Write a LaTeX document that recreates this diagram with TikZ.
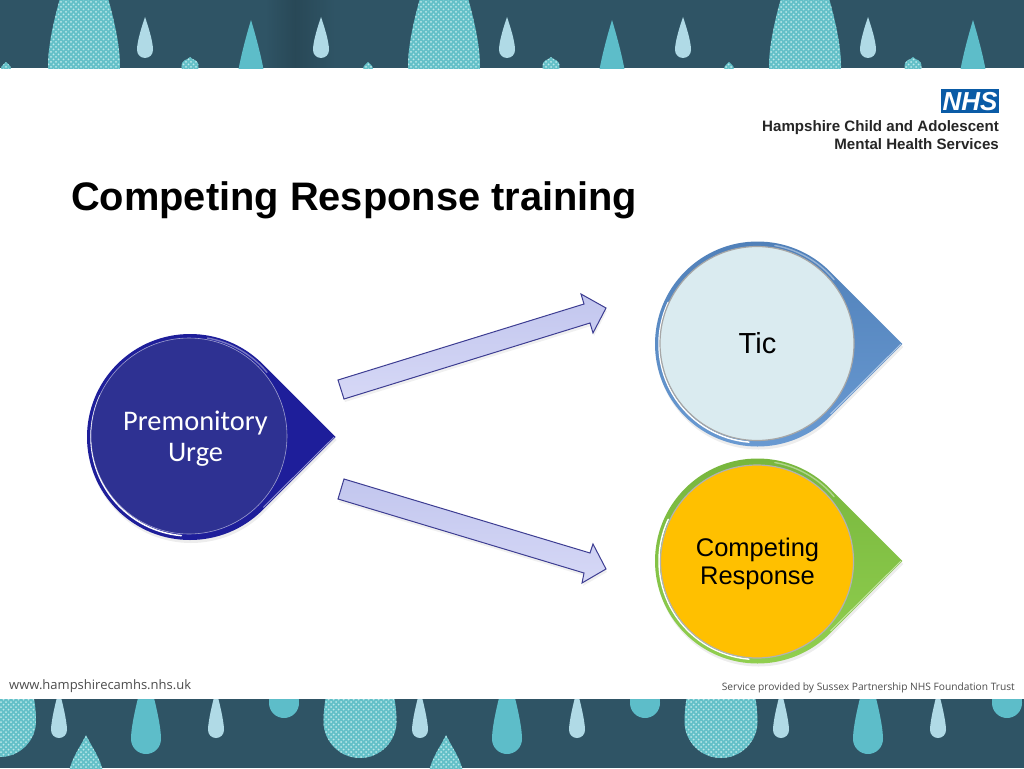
\documentclass[tikz,border=0pt]{standalone}
\usepackage{fontspec}
\usetikzlibrary{patterns}
\setmainfont{Liberation Sans}
\newfontfamily\carl{Carlito}
\newfontfamily\opens{Open Sans}
\definecolor{band}{HTML}{2F5465}
\definecolor{teal}{HTML}{5DBDC9}
\definecolor{paleb}{HTML}{B0DAE6}
\definecolor{dotbg}{HTML}{63C0C8}
\definecolor{dotfg}{HTML}{BDE8EA}
\definecolor{navy}{HTML}{2E3192}
\definecolor{navyb}{HTML}{1E1E9A}
\definecolor{ticin}{HTML}{DAEBF0}
\definecolor{ticb}{HTML}{6A9BD3}
\definecolor{ticd}{HTML}{4F7FB8}
\definecolor{compb}{HTML}{92D050}
\definecolor{compd}{HTML}{76B53C}
\definecolor{compin}{HTML}{FFC000}
\definecolor{arrowl}{HTML}{3D3D92}
\definecolor{arrowa}{HTML}{C2C6EE}
\definecolor{arrowc}{HTML}{D6D8F6}
\definecolor{nhsblue}{HTML}{0A5BA6}
\pgfdeclarepatternformonly{latt}{\pgfpoint{-1pt}{-1pt}}{\pgfpoint{5pt}{5pt}}{\pgfpoint{5pt}{5pt}}{%
  \pgfpathcircle{\pgfpoint{1pt}{1pt}}{1pt}%
  \pgfpathcircle{\pgfpoint{3.5pt}{3.5pt}}{1pt}%
  \pgfusepath{fill}}
% cx, apex y, bottom y, half width
\newcommand\dropshape[4]{(#1,#2) .. controls ({#1+0.38*#4},{#2+0.22*(#3-#2)}) and ({#1+#4},{#3-2.1*#4}) .. ({#1+#4},{#3-#4})
 .. controls ({#1+#4},{#3-0.45*#4}) and ({#1+0.55*#4},#3) .. (#1,#3)
 .. controls ({#1-0.55*#4},#3) and ({#1-#4},{#3-0.45*#4}) .. ({#1-#4},{#3-#4})
 .. controls ({#1-#4},{#3-2.1*#4}) and ({#1-0.38*#4},{#2+0.22*(#3-#2)}) .. (#1,#2) -- cycle}
\newcommand\plaindrop[5]{\fill[#5] \dropshape{#1}{#2}{#3}{#4};}
\newcommand\dotdrop[4]{\fill[dotbg] \dropshape{#1}{#2}{#3}{#4};
  \fill[pattern=latt,pattern color=dotfg] \dropshape{#1}{#2}{#3}{#4};}
% cx, cy, outer r, inner r, icx, icy, rim left, rim right, inner fill
\newcommand\bigdrop[9]{%
  \fill[black,opacity=.07] ({#1+1+#3*1.4142},{#2+3}) -- ({#1+1+#3*.7071},{#2+3-#3*.7071}) arc[start angle=45,delta angle=270,radius=#3 pt] -- cycle;
  \shade[left color=#7,right color=#8,shading angle=0]
    ({#1+#3*1.4142},#2) -- ({#1+#3*.7071},{#2-#3*.7071}) arc[start angle=45,delta angle=270,radius=#3 pt] -- cycle;
  \draw[white,opacity=.55,line width=.9pt] ({#1+#3*1.4142-1.5},#2) -- ({#1+#3*.7071+0.5},{#2+#3*.7071-2.5});
  \draw[white,opacity=.4,line width=1.4pt,line cap=round] ({#1+(#3-2.5)*cos(40)},{#2-(#3-2.5)*sin(40)}) arc[start angle=40,delta angle=40,radius=#3 pt-2.5pt];
  \draw[white,line width=1.5pt,line cap=round] ({#1-(#3-4)*cos(25)},{#2-(#3-4)*sin(25)}) arc[start angle=155,delta angle=110,radius=#3 pt-4pt];
  \fill[#9] (#5,#6) circle[radius=#4 pt];
}
\tikzset{
  x=1pt,y=-1pt,
  lbl/.style={inner sep=0pt,outer sep=0pt,anchor=base},
  blockarrow/.style={draw=arrowl,line width=1pt,line join=miter},
}
\begin{document}
\begin{tikzpicture}
\useasboundingbox (0,0) rectangle (1024,768);
\fill[white] (0,0) rectangle (1024,768);
% top band
\begin{scope}
\clip (0,1) rectangle (1024,68);
\fill[band] (0,0) rectangle (1024,68);
\shade[left color=band,right color=black!14!band] (265,1) rectangle (295,67.4);
\shade[left color=black!14!band,right color=band] (295,1) rectangle (335,67.4);
\dotdrop{84}{-75}{102}{36}
\dotdrop{444}{-75}{102}{36}
\dotdrop{805}{-75}{102}{36}
\dotdrop{6}{62}{75}{5}
\dotdrop{190}{57}{76}{8.5}
\dotdrop{368}{62}{75}{5}
\dotdrop{551}{57}{76}{8.5}
\dotdrop{729}{62}{75}{5}
\dotdrop{913}{57}{76}{8.5}
\plaindrop{145}{17}{58}{8}{paleb}
\plaindrop{321}{17}{58}{8}{paleb}
\plaindrop{507}{17}{58}{8}{paleb}
\plaindrop{683}{17}{58}{8}{paleb}
\plaindrop{868}{17}{58}{8}{paleb}
\plaindrop{251}{20}{105}{15}{teal}
\plaindrop{612}{20}{105}{15}{teal}
\plaindrop{973}{20}{105}{15}{teal}
\end{scope}
% bottom band
\begin{scope}
\clip (0,699) rectangle (1024,768);
\fill[band] (0,699) rectangle (1024,768);
\dotdrop{0}{590}{757}{36}
\dotdrop{360}{590}{758}{36.5}
\dotdrop{721}{590}{758}{36.5}
\dotdrop{86}{735}{800}{18}
\dotdrop{446}{735}{800}{18}
\plaindrop{59}{690}{738}{8}{paleb}
\plaindrop{216}{690}{738}{8}{paleb}
\plaindrop{420}{690}{738}{8}{paleb}
\plaindrop{577}{690}{738}{8}{paleb}
\plaindrop{781}{690}{738}{8}{paleb}
\plaindrop{938}{690}{738}{8}{paleb}
\plaindrop{146}{669}{754}{15}{teal}
\plaindrop{507}{669}{754}{15}{teal}
\plaindrop{868}{669}{754}{15}{teal}
\plaindrop{284}{633}{718}{15}{teal}
\plaindrop{645}{633}{718}{15}{teal}
\plaindrop{1007}{633}{718}{15}{teal}
\end{scope}
% logo
\fill[nhsblue] (941,89) rectangle (999,113);
\node[lbl,text=white,font=\fontsize{26}{26}\selectfont\bfseries\itshape] (nhs) at (970,110.5) {NHS};
\node[inner sep=0pt,anchor=base east,font=\fontsize{15.1}{15.1}\selectfont\bfseries,text=black!85] (org1) at (999,131) {Hampshire Child and Adolescent};
\node[inner sep=0pt,anchor=base east,font=\fontsize{15.1}{15.1}\selectfont\bfseries,text=black!85] (org2) at (999,149) {Mental Health Services};
% title
\node[inner sep=0pt,anchor=base west,font=\fontsize{39.8}{39.8}\selectfont\bfseries] (title) at (71,210) {Competing Response training};
% footers
\node[inner sep=0pt,anchor=base west,font=\opens\fontsize{13}{13}\selectfont,text=black!70] (web) at (9,689) {www.hampshirecamhs.nhs.uk};
\node[inner sep=0pt,anchor=base east,font=\opens\fontsize{10.2}{10.2}\selectfont,text=black!70] (prov) at (1015,690) {Service provided by Sussex Partnership NHS Foundation Trust};
% teardrops
\bigdrop{190}{437}{103}{98}{189}{436}{navyb}{navyb}{navy}
\draw[white,opacity=.55,line width=.6pt] (189,436) circle[radius=98pt];
\bigdrop{757.5}{344}{102.5}{97}{757}{343.5}{ticd}{ticb}{ticin}
\draw[black!35,line width=1.2pt] (757,343.5) circle[radius=97pt];
\bigdrop{757.5}{561}{102.5}{96.5}{757}{561.5}{compd}{compb}{compin}
\draw[black!30,line width=1.2pt] (757,561.5) circle[radius=96.5pt];
% labels
\node[inner sep=0pt,align=center,text=white,font=\carl\fontsize{28.4}{31}\selectfont] (urge) at (195.5,439) {Premonitory\\Urge};
\node[inner sep=0pt,font=\fontsize{29}{29}\selectfont] (tic) at (757.5,343) {Tic};
\node[inner sep=0pt,align=center,font=\fontsize{25.5}{28}\selectfont] (resp) at (757.5,563.5) {Competing\\Response};
% block arrows
\fill[black,opacity=.06]
  (339,383) -- (585,307) -- (582,297) -- (607,311) -- (594,336) -- (591,326) -- (345,402) -- cycle;
\fill[black,opacity=.06]
  (345,482) -- (591,556) -- (594,547) -- (607,572) -- (583,586) -- (585,576) -- (339,502) -- cycle;
\shade[left color=arrowa,right color=arrowc,shading angle=0,blockarrow]
  (338,380) -- (584,304) -- (581,294) -- (606,308) -- (593,333) -- (590,323) -- (344,399) -- cycle;
\shade[left color=arrowa,right color=arrowc,shading angle=0,blockarrow]
  (344,479) -- (590,553) -- (593,544) -- (606,569) -- (582,583) -- (584,573) -- (338,499) -- cycle;
\end{tikzpicture}
\end{document}
